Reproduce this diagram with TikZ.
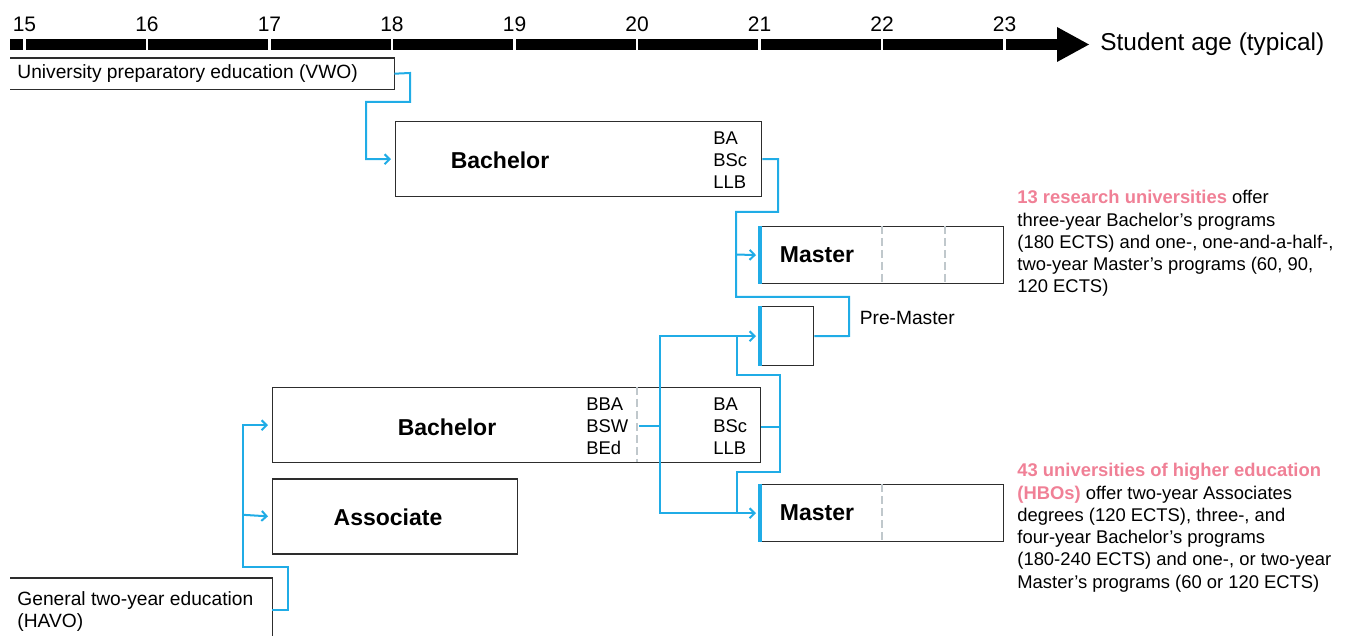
\documentclass[tikz,border=0pt]{standalone}
\usepackage{fontspec}
\setmainfont{Liberation Sans}
\usepackage{tikz}
\usetikzlibrary{arrows.meta}
\usetikzlibrary{positioning}
\definecolor{linkblue}{RGB}{32,172,230}
\definecolor{rosetext}{RGB}{240,128,150}
\definecolor{boxgray}{RGB}{45,45,45}
\definecolor{divgray}{RGB}{192,200,204}
\tikzstyle{box} = [rectangle, draw=boxgray, line width=0.7pt, inner sep=0pt, anchor=north west]
\tikzstyle{link} = [draw=linkblue, line width=1pt]
\tikzstyle{golink} = [link, -{Straight Barb[length=2.5pt,width=5pt]}, shorten >=2pt]
\tikzstyle{entryedge} = [draw=linkblue, line width=1.6pt]
\tikzstyle{divider} = [draw=divgray, line width=0.6pt, dash pattern=on 4pt off 2pt]
\tikzstyle{boxtitle} = [font=\fontsize{11.5}{14}\selectfont\bfseries, inner sep=0pt]
\tikzstyle{degs} = [font=\fontsize{9.2}{11}\selectfont, align=left, anchor=west, inner sep=0pt]
\tikzstyle{notes} = [font=\fontsize{9.2}{11.15}\selectfont, align=left, anchor=north west, inner sep=0pt]

\begin{document}
\begin{tikzpicture}[x=0.5pt, y=-0.5pt]
   \useasboundingbox (0,0) rectangle (1345,636);
   % Age axis
   \fill (10,39) rectangle (1058,50);
   \fill (1057,27) -- (1089,44.5) -- (1057,62) -- cycle;
   \foreach \a [count=\i from 0] in {15,...,23} {
      \draw[white, line width=1.2pt] ({24.5+122.5*\i},37) -- ++(0,15);
      \node[font=\fontsize{10.5}{12}\selectfont] (age\a) at ({24.5+122.5*\i},24) {\a};
   }
   \node[anchor=west, inner sep=0pt, font=\fontsize{12.2}{14}\selectfont] (axis) at (1100,44) {Student age (typical)};

   % Place nodes
   \node [box, draw=none, minimum width=191.5pt, minimum height=15pt] (vwo) at (10,58) {};
   \node [anchor=west, inner sep=0pt, font=\fontsize{9.6}{11}\selectfont] (vwo-t) at (17,74) {University preparatory education (VWO)};
   \node [box, minimum width=183pt, minimum height=37.5pt] (b-wo) at (395,121) {};
   \node [boxtitle] (b-wo-t) at (500,160) {Bachelor};
   \node [degs] (b-wo-d) at (713,160) {BA\\BSc\\LLB};
   \node [box, minimum width=121.5pt, minimum height=28.5pt] (m-wo) at (760,226) {};
   \node [boxtitle] (m-wo-t) at (817,255) {Master};
   \node [box, minimum width=26.5pt, minimum height=29.5pt] (pre) at (760,306) {};
   \node [anchor=west, inner sep=0pt, font=\fontsize{9.6}{11}\selectfont, right = 22.5pt of pre.north east, yshift=-6pt] (pre-t) {Pre-Master};
   \node [box, minimum width=244pt, minimum height=37.5pt] (b-hbo) at (272,387) {};
   \node [boxtitle] (b-hbo-t) at (447,427) {Bachelor};
   \node [degs] (b-hbo-d1) at (586,426) {BBA\\BSW\\BEd};
   \node [degs] (b-hbo-d2) at (713,426) {BA\\BSc\\LLB};
   \node [box, below = 7.5pt of b-hbo.south west, anchor=north west, minimum width=122.5pt, minimum height=37.5pt] (ad) {};
   \node [boxtitle] (ad-t) at (388,517) {Associate};
   \node [box, minimum width=121.5pt, minimum height=28.5pt] (m-hbo) at (760,484) {};
   \node [boxtitle] (m-hbo-t) at (817,513) {Master};
   \node [box, draw=none, minimum width=130.5pt, minimum height=31pt] (havo) at (10,578) {};
   \node [anchor=north west, inner sep=0pt, align=left, font=\fontsize{9.6}{11.2}\selectfont] (havo-t) at (17,591) {General two-year education\\(HAVO)};

   % Open box sides
   \draw[draw=boxgray, line width=0.7pt] (vwo.north west) -- (vwo.north east) -- (vwo.south east) -- (vwo.south west);
   \draw[draw=boxgray, line width=0.7pt] (havo.north west) -- (havo.north east) -- (havo.south east);

   % Dashed year marks inside boxes
   \draw[divider] (882,226) -- (882,283);
   \draw[divider] (945,226) -- (945,283);
   \draw[divider] (882,484) -- (882,541);
   \draw[divider] (637,387) -- (637,462);

   % Notes
   \node [notes] (n-wo) at (1017,190) {\textcolor{rosetext}{\bfseries 13 research universities} offer\\three-year Bachelor’s programs\\(180 ECTS) and one-, one-and-a-half-,\\two-year Master’s programs (60, 90,\\120 ECTS)};
   \node [notes] (n-hbo) at (1017,463) {\textcolor{rosetext}{\bfseries 43 universities of higher education}\\\textcolor{rosetext}{\bfseries (HBOs)} offer two-year Associates\\degrees (120 ECTS), three-, and\\four-year Bachelor’s programs\\(180-240 ECTS) and one-, or two-year\\Master’s programs (60 or 120 ECTS)};

   % Connectors
   \coordinate (j-mwo) at (736,254.5);
   \coordinate (bsw) at (639,426.5);
   \coordinate (j-bsw) at (660,426.5);
   \coordinate (j-ad) at (243,514.8);
   \draw[golink] (vwo.east) -- (410,73) |- (366,102) |- (b-wo.west);
   \draw[link] (b-wo.east) -| (778,212) -| (736,297) -| (849,336) -- (pre.east);
   \draw[golink] (j-mwo) -- (m-wo.west);
   \draw[golink] (bsw) -- (j-bsw) |- (pre.west);
   \draw[golink] (j-bsw) |- (m-hbo.west);
   \draw[link] ([yshift=-1pt]b-hbo.east) -| (780,375) -| (737,335.5);
   \draw[link] ([yshift=-1pt]b-hbo.east) -| (780,472) -| (737,512.5);
   \draw[golink] (havo.east) -| (288,567) -| (243,470) |- (b-hbo.west);
   \draw[golink] (j-ad) -- (ad.west);

   % Blue entry edges
   \draw[entryedge] (m-wo.north west) -- (m-wo.south west);
   \draw[entryedge] (pre.north west) -- (pre.south west);
   \draw[entryedge] (m-hbo.north west) -- (m-hbo.south west);
\end{tikzpicture}
\end{document}
